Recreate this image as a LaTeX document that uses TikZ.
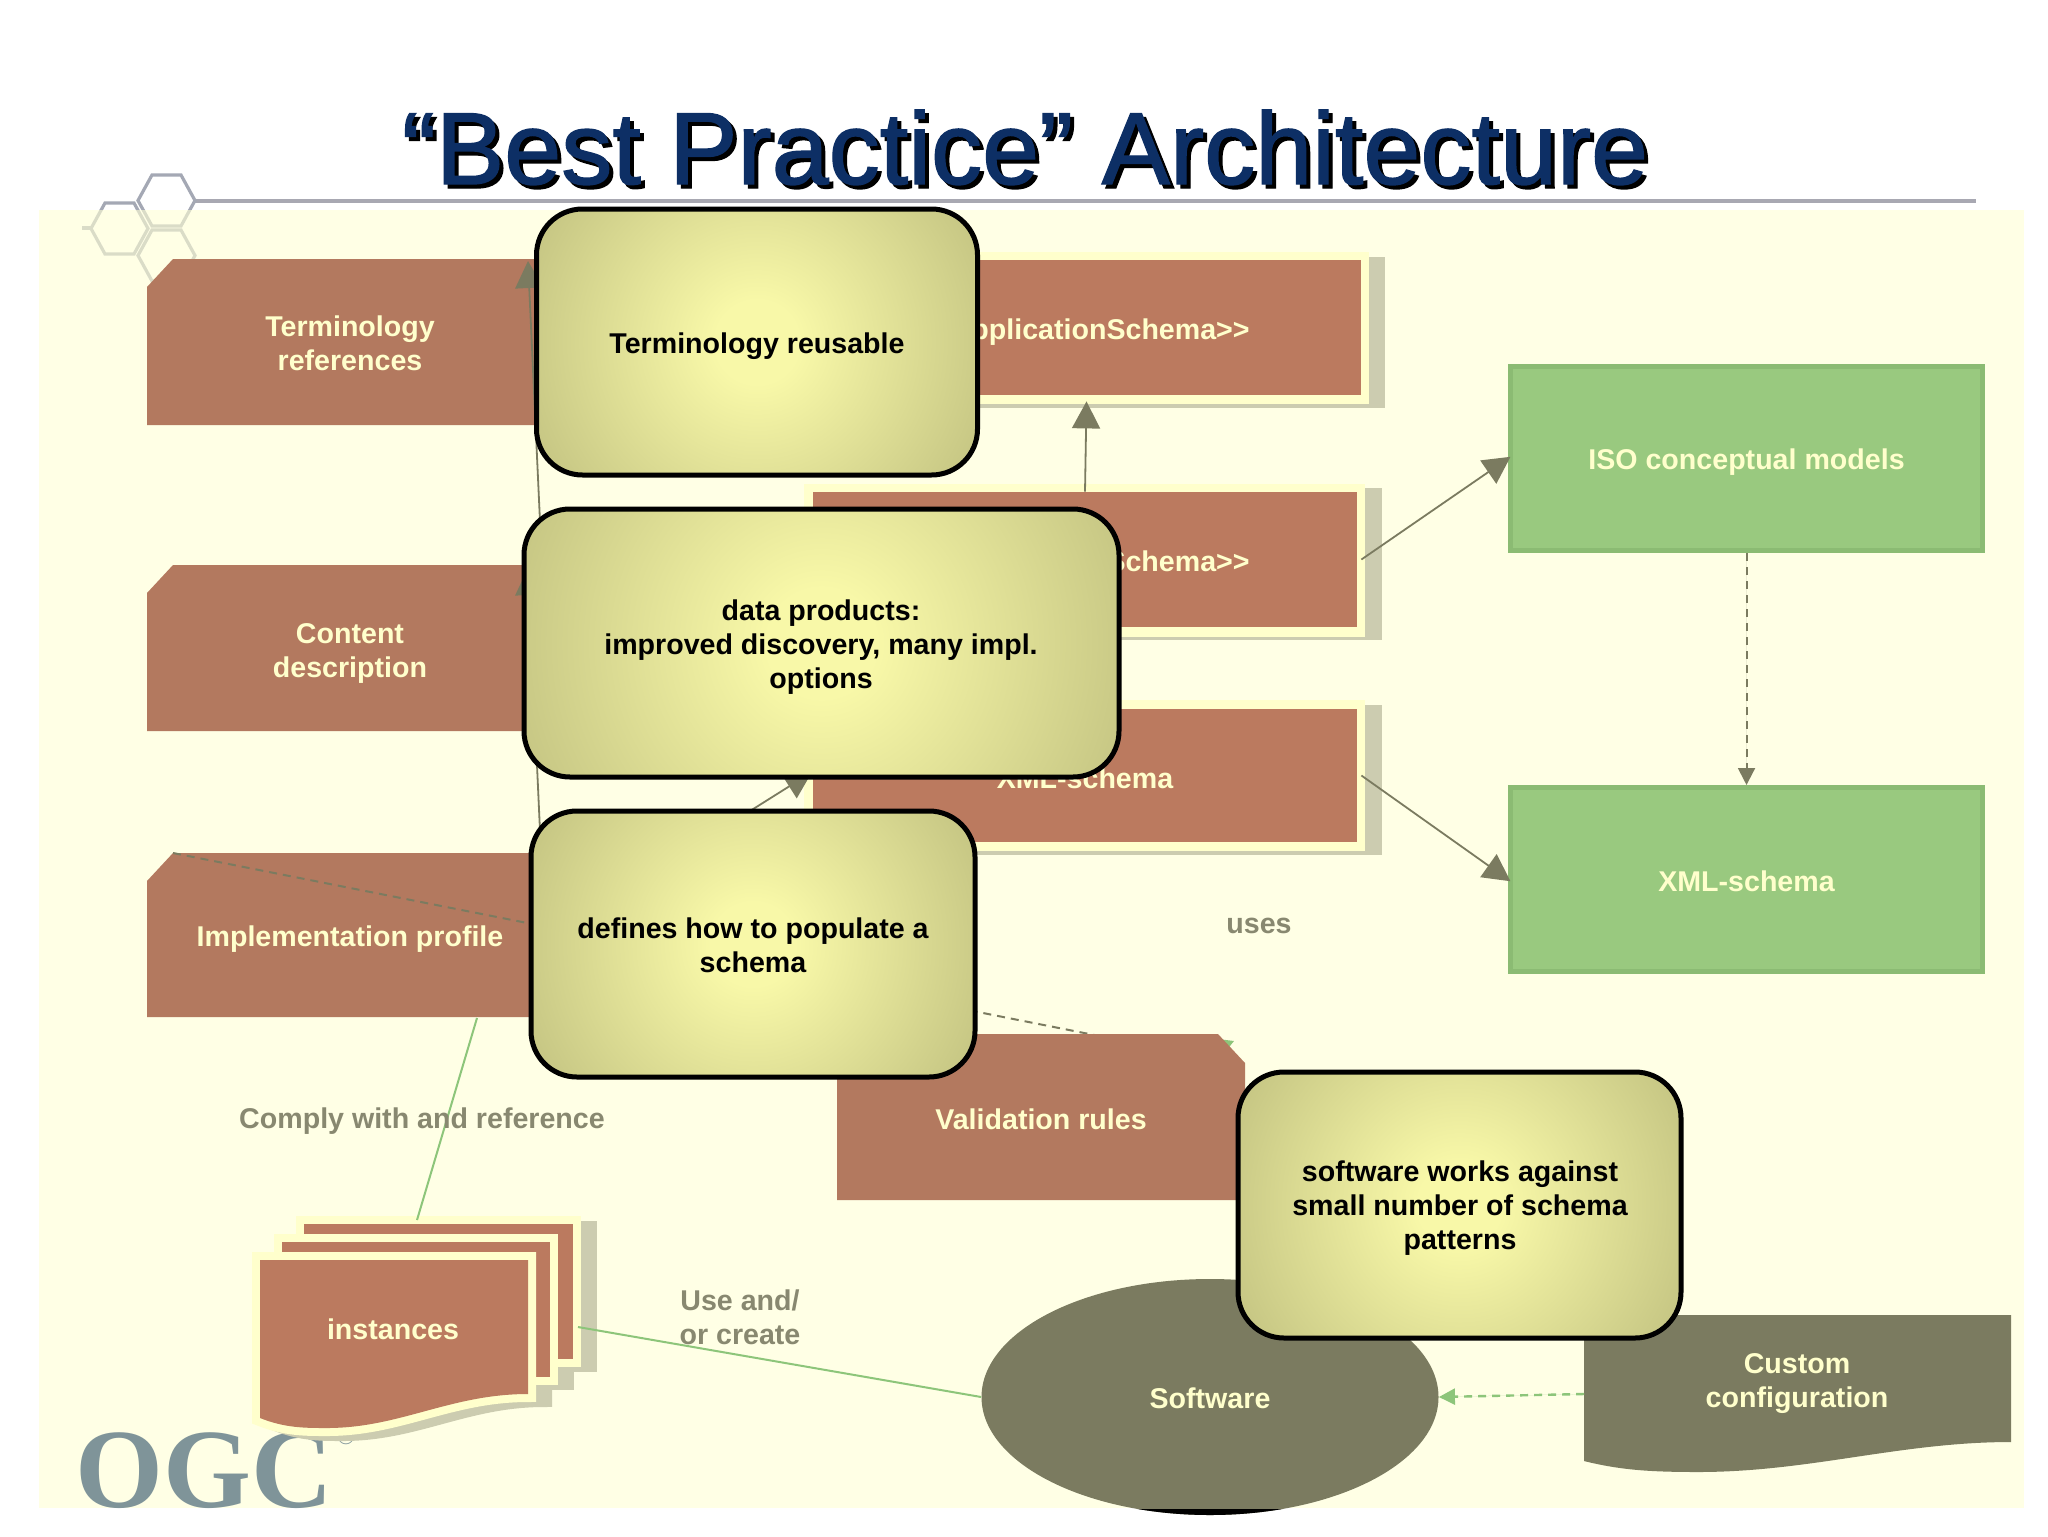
\documentclass[tikz,border=0pt]{standalone}
\usepackage{fontspec}
\setmainfont{Liberation Sans}
\newfontfamily\titlefont[FakeBold=1.3]{Liberation Sans}
\newfontfamily\ogcfont{Liberation Serif}
\usetikzlibrary{arrows.meta,shapes.geometric}
\definecolor{panelc}{HTML}{FFFFD5}
\definecolor{brownA}{HTML}{B3795F}
\definecolor{brownB}{HTML}{BB7A5F}
\definecolor{halo}{HTML}{FFFFCC}
\definecolor{shadowc}{HTML}{CCCCB0}
\definecolor{olive}{HTML}{7B7B60}
\definecolor{greenF}{HTML}{99C97F}
\definecolor{greenD}{HTML}{8BBB73}
\definecolor{lineG}{HTML}{8DC57A}
\definecolor{navy}{HTML}{0D2F65}
\definecolor{paleT}{HTML}{FFFFCC}
\definecolor{ogc}{HTML}{7F9499}
\definecolor{hexc}{HTML}{A4A8B4}
\definecolor{rulec}{HTML}{A8A8B2}
\definecolor{calloutIn}{HTML}{F8F8A8}
\definecolor{calloutOut}{HTML}{AEAE72}
\pgfdeclareradialshading{cshade}{\pgfpoint{0bp}{0bp}}{color(0bp)=(calloutIn); color(4bp)=(calloutIn); color(33bp)=(calloutOut); color(50bp)=(calloutOut)}
\tikzset{
  lbl/.style={font=\fontsize{14.3}{17}\selectfont\bfseries,align=center,text=paleT,inner sep=0pt},
  darklbl/.style={lbl,text=black},
  olivelbl/.style={lbl,text=olive!90!white},
  schemabox/.style={rectangle,fill=brownB,inner sep=0pt},
  greenbox/.style={rectangle,draw=greenD,line width=2.5pt,fill=greenF,inner sep=0pt,minimum width=236pt,minimum height=92pt},
  callout/.style={rectangle,rounded corners=23pt,draw=black,fill=calloutOut,line width=2.5pt,inner sep=0pt,
    path picture={\shade[shading=cshade] ([xshift=-#1pt,yshift=-#1pt]path picture bounding box.center) rectangle ([xshift=#1pt,yshift=#1pt]path picture bounding box.center);}},
  conn/.style={draw=olive,line width=0.9pt,-{Triangle[length=13.5pt,width=14pt]},fill=olive},
  dashconn/.style={draw=olive,line width=1pt,dash pattern=on 4pt off 3pt},
  gline/.style={draw=lineG,line width=1pt},
  hexline/.style={draw=hexc,line width=1.6pt},
}
\newcommand{\hexat}[2]{(#1,#2+25.5)--(#1+14,#2)--(#1+43,#2)--(#1+57,#2+25.5)--(#1+43,#2+51)--(#1+14,#2+51)--cycle}
\newcommand{\docfront}{(260,1260)--(528,1260)--(528,1394) .. controls (450,1394) and (400,1428) .. (327,1428) .. controls (305,1428) and (285,1428) .. (260,1418)--cycle}
\begin{document}
\begin{tikzpicture}[x=0.5pt,y=-0.5pt]
\useasboundingbox (0,0) rectangle (2048,1536);
\fill[white] (0,0) rectangle (2048,1536);
% decoration
\fill[rulec] (195,199) rectangle (1976,203);
\draw[hexline] \hexat{138}{175};
\draw[hexline] \hexat{91}{203};
\draw[hexline] \hexat{138}{230};
\draw[hexline] (82,228)--(91,228);
% panel
\fill[panelc,fill opacity=0.6] (39,210) rectangle (2024,1508);
% title
\node[anchor=base,inner sep=0pt,text=black,font=\titlefont\fontsize{51.2}{56}\selectfont] (titleshadow) at (1029,188) {“Best Practice” Architecture};
\node[anchor=base,inner sep=0pt,text=navy,font=\titlefont\fontsize{51.2}{56}\selectfont] (title) at (1025,184) {“Best Practice” Architecture};
% logo
\node[anchor=base,inner sep=0pt,text=ogc,font=\ogcfont\bfseries\fontsize{56.5}{60}\selectfont] (logo) at (204,1507) {OGC};
\node[inner sep=0pt,text=ogc,font=\ogcfont\fontsize{12}{12}\selectfont] (reg) at (346,1437) {®};
% chamfered shapes
\fill[brownA] (147,287)--(173,259)--(553,259)--(553,425)--(147,425)--cycle;
\fill[brownA] (147,593)--(173,565)--(553,565)--(553,731)--(147,731)--cycle;
\fill[brownA] (147,881)--(173,853)--(553,853)--(553,1017)--(147,1017)--cycle;
\node[lbl] (term) at (350,343) {Terminology\\references};
\node[lbl] (content) at (350,653) {Content\\description};
\node[lbl] (impl) at (350,939) {Implementation profile};
% schema boxes with halo and shadow
\fill[shadowc] (828,257) rectangle (1385,408);
\fill[halo] (804,252) rectangle (1369,404);
\fill[shadowc] (828,488) rectangle (1382,640);
\fill[halo] (804,484) rectangle (1365,637);
\fill[shadowc] (828,705) rectangle (1382,855);
\fill[halo] (804,700) rectangle (1365,851);
\node[schemabox,minimum width=274.5pt,minimum height=67.5pt] (appbox) at (1086.5,327.5) {};
\node[schemabox,minimum width=272pt,minimum height=67.5pt] (midbox) at (1085,559.5) {};
\node[schemabox,minimum width=272pt,minimum height=66.5pt] (xmlbox) at (1085,775.5) {};
\node[lbl] (xmltext) at (1085,778) {XML-schema};
\node[lbl,anchor=east] (apptext) at (1250,332) {ApplicationSchema>{}>};
\node[lbl,anchor=east] (midtext) at (1250,561) {Schema>{}>};
% green boxes
\node[greenbox] (iso) at (1746.5,458.5) {};
\node[lbl] (isotext) at (1746.5,462) {ISO conceptual models};
\node[greenbox] (xmlg) at (1746.5,879.5) {};
\node[lbl] (xmlgtext) at (1746.5,881) {XML-schema};
% documents
\draw[line width=8pt,draw=shadowc,fill=shadowc,shift={(16,5)}] (304,1224) rectangle (573,1359);
\draw[line width=8pt,draw=shadowc,fill=shadowc,shift={(16,5)}] (282,1242) rectangle (550,1377);
\draw[line width=8pt,draw=shadowc,fill=shadowc,shift={(16,5)}] \docfront;
\draw[line width=8pt,draw=halo] (304,1224) rectangle (573,1359);
\fill[brownB] (304,1224) rectangle (573,1359);
\draw[line width=8pt,draw=halo] (282,1242) rectangle (550,1377);
\fill[brownB] (282,1242) rectangle (550,1377);
\draw[line width=8pt,draw=halo] \docfront;
\fill[brownB] \docfront;
\node[lbl] (inst) at (393,1329) {instances};
% software and custom
\node[ellipse,fill=olive,minimum width=228.5pt,minimum height=118pt,inner sep=0pt] (soft) at (1210,1397) {};
\begin{scope}
\clip (1000,1509) rectangle (1400,1530);
\fill[black] (1210,1397) ellipse [x radius=229,y radius=118];
\end{scope}
\node[lbl] (softtext) at (1210,1398) {Software};
\fill[olive] (1584,1315)--(2011,1315)--(2011,1442) .. controls (1900,1442) and (1810,1472) .. (1698,1472) .. controls (1650,1472) and (1620,1470) .. (1584,1461)--cycle;
\node[lbl] (custom) at (1797,1384) {Custom\\configuration};
% coordinates for connector ends
\coordinate (cTermTip) at (528,261);
\coordinate (cContTop) at (542,565);
\coordinate (cContTip) at (528,568);
\coordinate (cImplTop) at (541,853);
\coordinate (cImplR) at (553,935);
\coordinate (cXmlL) at (812,772);
\coordinate (cImplC) at (173,853);
\coordinate (cValT) at (1150,1046);
\coordinate (cComplyA) at (477,1018);
\coordinate (cComplyB) at (417,1220);
\coordinate (cDocR) at (578,1327);
\coordinate (cCustL) at (1584,1394);
\coordinate (cValC) at (1041,1119);
\coordinate (cValTip) at (1234,1041);
% connectors
\draw[conn] (cContTop) -- (cTermTip);
\draw[conn] (cImplTop) -- (cContTip);
\draw[conn] (cImplR) -- (cXmlL);
\draw[conn] (midbox.north) -- ([yshift=-3pt]appbox.south);
\draw[conn,shorten >=-1.5pt] ([xshift=2pt]midbox.east) -- (iso.west);
\draw[conn,shorten >=-1.5pt] ([xshift=2pt]xmlbox.east) -- (xmlg.west);
\draw[draw=olive,line width=1pt,dash pattern=on 4pt off 3pt,-{Triangle[length=8.5pt,width=8.5pt]},fill=olive] (iso.south) -- (xmlg.north);
\draw[dashconn] (cImplC) -- (cValT);
\draw[gline] (cComplyA) -- (cComplyB);
\draw[gline] (cDocR) -- (soft.west);
\draw[draw=lineG,line width=1.2pt,dash pattern=on 4pt off 3pt,-{Triangle[length=8pt,width=8pt]},fill=lineG] (cCustL) -- (soft.east);
\draw[draw=lineG,line width=1pt,-{Triangle[length=11pt,width=12pt]},fill=lineG] (cValC) -- (cValTip);
% validation on top of its connectors
\fill[brownA] (837,1034)--(1218,1034)--(1245,1063)--(1245,1200)--(837,1200)--cycle;
\node[lbl] (valid) at (1041,1119) {Validation rules};
% free labels
\node[olivelbl] (uses) at (1259,926) {uses};
\node[olivelbl] (comply) at (422,1121) {Comply with and reference};
\node[olivelbl] (usecreate) at (740,1317) {Use and/\\or create};
% callouts
\node[callout=130,minimum width=220.5pt,minimum height=133pt] (c1) at (757,342) {};
\node[callout=170,minimum width=297.5pt,minimum height=134pt] (c2) at (821.5,643) {};
\node[callout=130,minimum width=222pt,minimum height=133pt] (c3) at (753,944) {};
\node[callout=130,minimum width=221.5pt,minimum height=133pt] (c4) at (1459.5,1205) {};
\node[darklbl] (c1text) at (757,346) {Terminology reusable};
\node[darklbl] (c2text) at (821,647) {data products:\\improved discovery, many impl.\\options};
\node[darklbl] (c3text) at (753,945) {defines how to populate a\\schema};
\node[darklbl] (c4text) at (1460,1208) {software works against\\small number of schema\\patterns};
\end{tikzpicture}
\end{document}
